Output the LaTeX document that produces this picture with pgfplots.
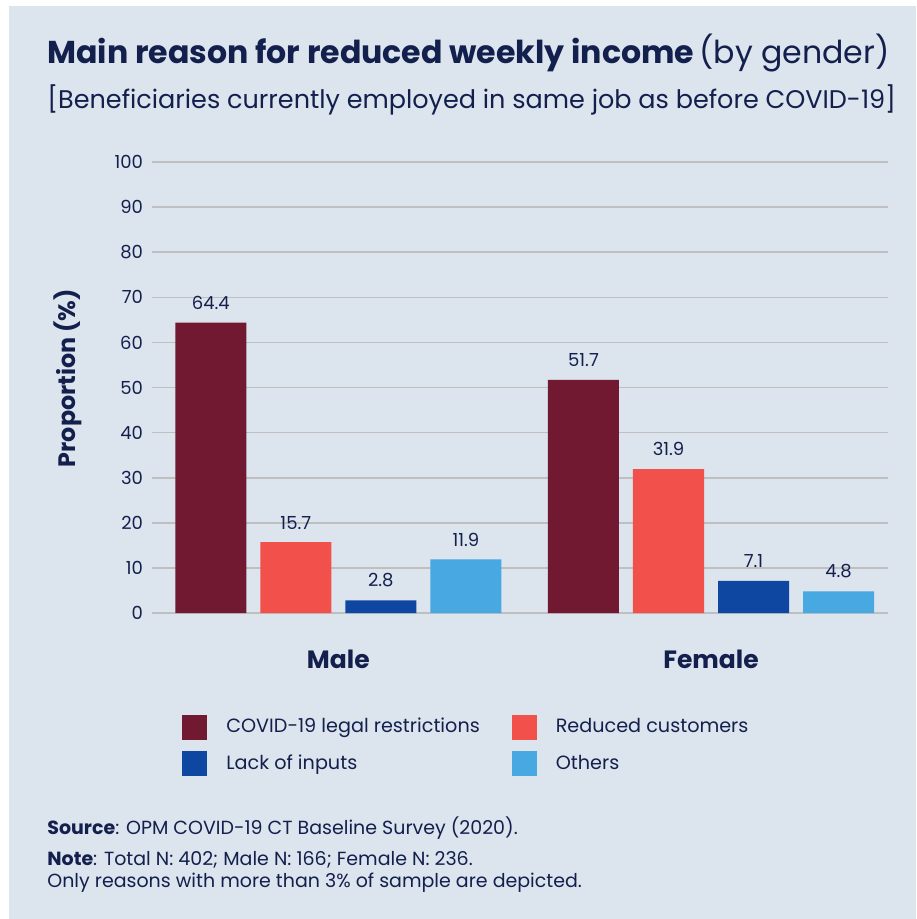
\documentclass[border=0pt]{standalone}
\usepackage{pgfplots}
\pgfplotsset{compat=1.18}
\usepackage{fontspec}
\setmainfont{Poppins}
\definecolor{bg}{HTML}{DCE4ED}
\definecolor{navy}{HTML}{13204D}
\definecolor{grid}{HTML}{A9B4BF}
\definecolor{cA}{HTML}{701930}
\definecolor{cB}{HTML}{F2514B}
\definecolor{cC}{HTML}{0D47A1}
\definecolor{cD}{HTML}{48A8E2}
\begin{document}
\begin{tikzpicture}
\fill[white] (0pt,0pt) rectangle (458pt,-459.5pt);
\useasboundingbox (0pt,0pt) rectangle (458pt,-459.5pt);
\fill[bg] (4.5pt,-3pt) rectangle (458pt,-459.5pt);
\node[anchor=base west, text=navy, inner sep=0pt] at (23.5pt,-32pt)
  {\fontsize{15.8pt}{18pt}\selectfont\bfseries Main reason for reduced weekly income\,\mdseries(by gender)};
\node[anchor=base west, text=navy, inner sep=0pt] at (23.5pt,-54.5pt)
  {\fontsize{12.75pt}{15pt}\selectfont [Beneficiaries currently employed in same job as before COVID-19]};
\node[anchor=base west, text=navy, inner sep=0pt] at (23.5pt,-417pt)
  {\fontsize{9.5pt}{11pt}\selectfont\textbf{Source}: OPM COVID-19 CT Baseline Survey (2020).};
\node[anchor=base west, text=navy, inner sep=0pt] at (23.5pt,-432.5pt)
  {\fontsize{9.5pt}{11pt}\selectfont\textbf{Note}: Total N: 402; Male N: 166; Female N: 236.};
\node[anchor=base west, text=navy, inner sep=0pt] at (23.5pt,-443.5pt)
  {\fontsize{9.5pt}{11pt}\selectfont Only reasons with more than 3\% of sample are depicted.};
\begin{axis}[
  at={(76pt,-306.5pt)}, anchor=south west,
  scale only axis, width=368pt, height=225.5pt,
  ybar=7pt, bar width=35.5pt,
  xmin=-0.5, xmax=1.475, ymin=0, ymax=100,
  xtick={0,1}, xticklabels={Male,Female},
  ytick={0,10,...,100},
  xmajorgrids=false, ymajorgrids, grid style={grid, line width=0.8pt},
  axis line style={draw=none}, major tick length=0pt,
  xtick style={draw=none}, ytick style={draw=none},
  /pgf/number format/assume math mode=true,
  tick label style={text=navy},
  yticklabel style={font=\fontsize{9pt}{10pt}\selectfont, xshift=-1pt},
  xticklabel style={font=\fontsize{12.5pt}{14pt}\selectfont\bfseries, yshift=-15pt},
  ylabel={Proportion (\%)},
  ylabel style={at={(axis description cs:-0.114,0.521)}, anchor=center, font=\fontsize{11.9pt}{14pt}\selectfont\bfseries, text=navy},
  nodes near coords={\pgfmathprintnumber[fixed,precision=1,fixed zerofill,assume math mode=true]{\pgfplotspointmeta}},
  nodes near coords style={font=\fontsize{9pt}{10pt}\selectfont, text=navy, yshift=3pt},
  legend columns=2,
  legend cell align=left,
  legend image code/.code={\fill[#1] (0pt,-6.25pt) rectangle (12.5pt,6.25pt);},
  legend style={at={(axis description cs:0.0325,-0.215)}, anchor=north west, draw=none, fill=none,
    font=\fontsize{9.6pt}{11pt}\selectfont, text=navy,
    row sep=5.5pt,
    /tikz/every odd column/.append style={column sep=7.5pt},
    /tikz/every even column/.append style={column sep=14pt}},
]
\addplot[fill=cA, draw=none] coordinates {(0,64.4) (1,51.7)};
\addplot[fill=cB, draw=none] coordinates {(0,15.7) (1,31.9)};
\addplot[fill=cC, draw=none] coordinates {(0,2.8) (1,7.1)};
\addplot[fill=cD, draw=none] coordinates {(0,11.9) (1,4.8)};
\legend{COVID-19 legal restrictions, Reduced customers, Lack of inputs, Others}
\end{axis}
\end{tikzpicture}
\end{document}
